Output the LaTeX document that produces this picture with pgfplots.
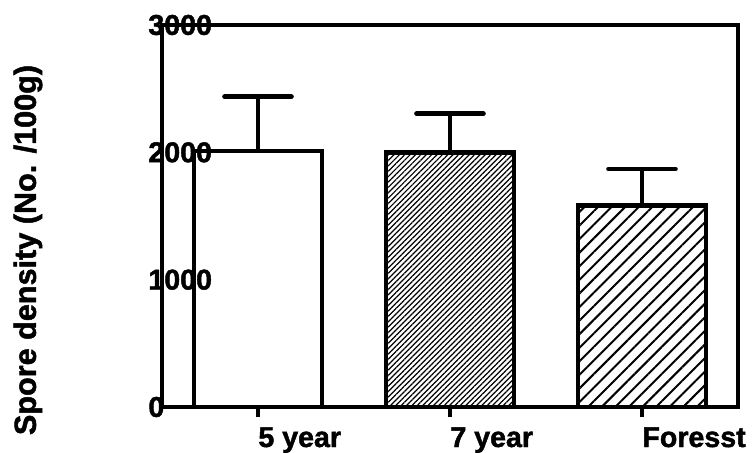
\documentclass[border=0pt]{standalone}
\usepackage{fontspec}
\setmainfont{Liberation Sans}[BoldFont={Liberation Sans Bold}, BoldFeatures={FakeBold=1.6}]
\usepackage{pgfplots}
\pgfplotsset{compat=1.18}
\usetikzlibrary{patterns.meta}
\begin{document}
\begin{tikzpicture}
\useasboundingbox (-81pt,-22.5pt) rectangle (295pt,203.5pt);
\begin{axis}[
  at={(0pt,0pt)}, anchor=south west,
  scale only axis, width=288pt, height=191pt,
  axis on top,
  xmin=0.5, xmax=3.5, ymin=0, ymax=3000,
  axis line style={line width=2pt},
  xtick={1,2,3}, xticklabels={5 year, 7 year, Foresst},
  ytick={0,1000,2000,3000},
  xtick pos=bottom, ytick pos=left, tick align=outside,
  x tick style={line width=1.6pt, black}, major tick length=5pt,
  y tick style={draw=none},
  /pgf/number format/assume math mode=true,
  scaled y ticks=false,
  yticklabel={\pgfmathprintnumber[fixed,precision=0,1000 sep={}]{\tick}},
  tick label style={font=\fontsize{14.3}{16}\selectfont\bfseries},
  xticklabel style={anchor=base west, inner sep=0pt, yshift=-15pt},
  yticklabel style={anchor=west, inner sep=0pt, xshift=-2pt},
  ylabel={Spore density (No. /100g)},
  ylabel style={at={(axis description cs:-0.2326,0.411)}, anchor=center, rotate=0, font=\fontsize{15.3}{18}\selectfont\bfseries, inner sep=0pt},
  every axis plot/.append style={ybar, bar width=64pt, bar shift=0pt, draw=black, line width=2.2pt},
]
\addplot[fill=white, error bars/.cd, y dir=plus, y explicit,
  error bar style={line width=2pt},
  error mark options={rotate=90, line width=2.3pt, mark size=16.75pt, line cap=round}]
  coordinates {(1,2010) +- (0,427)};
\addplot[pattern={Lines[angle=45,distance=1.9pt,line width=0.6pt]}, error bars/.cd, y dir=plus, y explicit,
  error bar style={line width=2pt},
  error mark options={rotate=90, line width=2.3pt, mark size=16.75pt, line cap=round}]
  coordinates {(2,2000) +- (0,304)};
\addplot[pattern={Lines[angle=45,distance=4.8pt,line width=1pt]}, error bars/.cd, y dir=plus, y explicit,
  error bar style={line width=2pt},
  error mark options={rotate=90, line width=2.3pt, mark size=16.75pt, line cap=round}]
  coordinates {(3,1584) +- (0,285)};
\end{axis}
\end{tikzpicture}
\end{document}
